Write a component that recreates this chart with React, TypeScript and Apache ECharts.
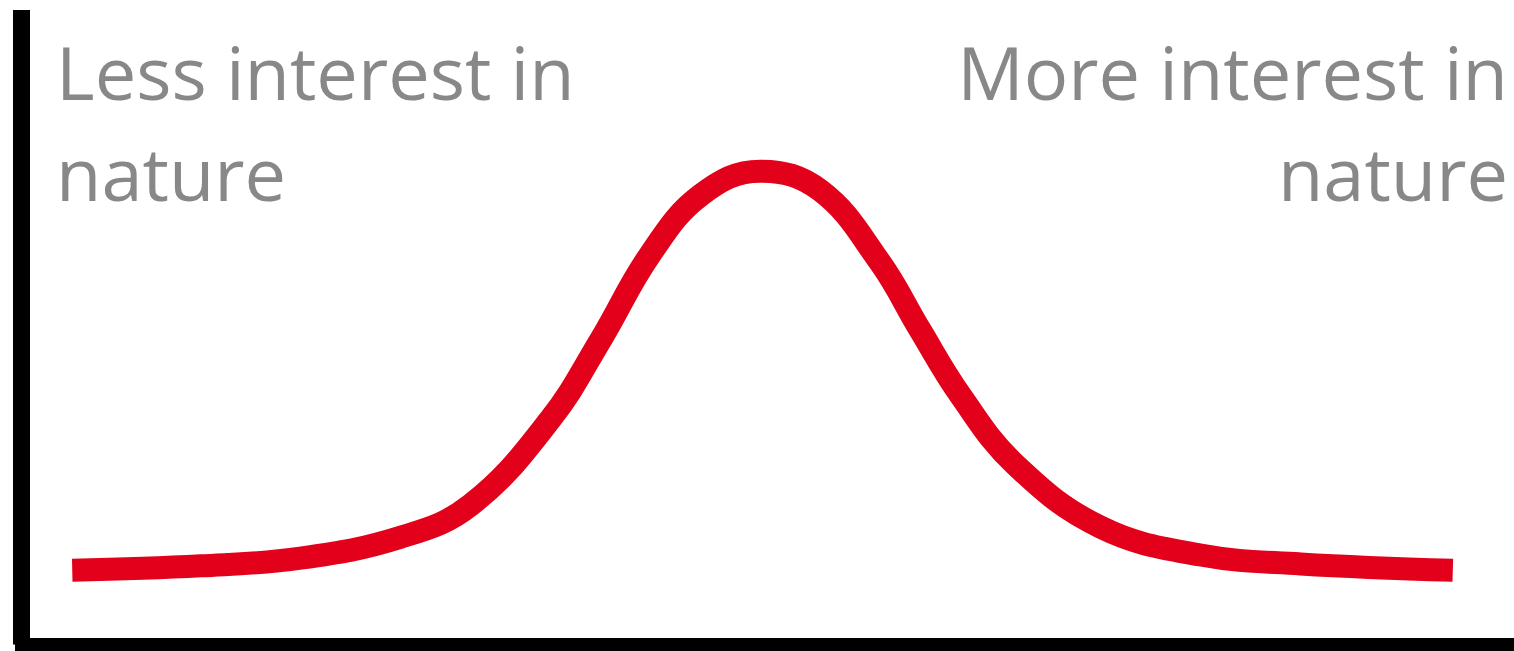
import React, { useEffect, useRef } from "react";
import * as echarts from "echarts";

const interest = [3.4, 12.0, 18.7, 25.4, 30.1, 35.4, 38.8, 42.1, 45.5, 49.5, 53.5, 57.5, 60.2, 62.9, 66.6, 72.3, 79.0, 85.7, 95.9];
const people = [11.7, 12.4, 13.6, 16.9, 22.0, 35.4, 48.0, 61.4, 70.8, 74.6, 71.6, 60.3, 49.6, 39.3, 28.3, 18.5, 14.1, 12.7, 11.7];
const leftLines = ["Less interest in", "nature"];
const rightLines = ["More interest in", "nature"];

export default function App() {
  const ref = useRef<HTMLDivElement>(null);
  useEffect(() => {
    if (!ref.current) return;
    const chart = echarts.init(ref.current, null, { renderer: "svg" });
    const textStyle = {
      fontFamily: "Open Sans",
      fontSize: 74,
      fill: "#888888",
    };
    const baselines = [108, 209];
    const graphics: any[] = [];
    leftLines.forEach((t, i) => {
      graphics.push({
        type: "text",
        x: 56,
        y: baselines[i],
        style: { ...textStyle, text: t, align: "left", verticalAlign: "bottom" },
      });
    });
    rightLines.forEach((t, i) => {
      graphics.push({
        type: "text",
        x: 1508,
        y: baselines[i],
        style: { ...textStyle, text: t, align: "right", verticalAlign: "bottom" },
      });
    });
    chart.setOption({
      animation: false,
      backgroundColor: "#ffffff",
      grid: { left: 21.5, right: 0, top: 10, bottom: 6.5 },
      xAxis: {
        type: "value",
        min: 0,
        max: 100,
        axisLine: { show: true, lineStyle: { color: "#000", width: 13, cap: "square" } },
        axisTick: { show: false },
        axisLabel: { show: false },
        splitLine: { show: false },
      },
      yAxis: {
        type: "value",
        min: 0,
        max: 100,
        axisLine: { show: true, lineStyle: { color: "#000", width: 17, cap: "butt" } },
        axisTick: { show: false },
        axisLabel: { show: false },
        splitLine: { show: false },
      },
      series: [
        {
          type: "line",
          data: interest.map((x, i) => [x, people[i]]),
          smooth: 0.4,
          symbol: "none",
          lineStyle: { color: "#e2001a", width: 23, cap: "butt" },
        },
      ],
      graphic: graphics,
    });
    return () => chart.dispose();
  }, []);
  return <div ref={ref} style={{ width: 1514, height: 651, position: "absolute", left: 0, top: 0 }} />;
}
